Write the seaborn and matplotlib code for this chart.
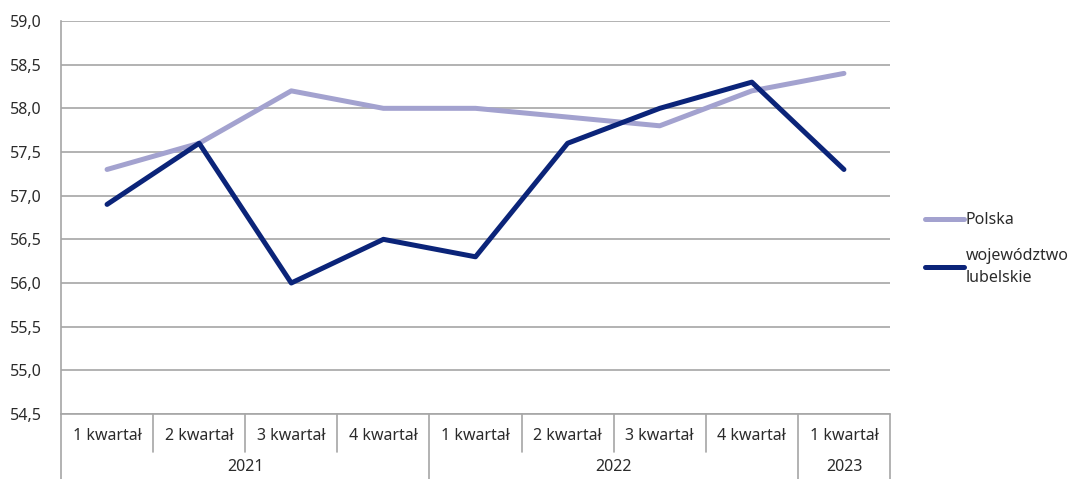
import pandas as pd
import matplotlib.pyplot as plt
import matplotlib.transforms as mtransforms
import seaborn as sns

# data
quarters = ["1 kwartał", "2 kwartał", "3 kwartał", "4 kwartał",
            "1 kwartał", "2 kwartał", "3 kwartał", "4 kwartał",
            "1 kwartał"]
years = ["2021", "2022", "2023"]
quarters_per_year = [4, 4, 1]
polska = [57.3, 57.6, 58.2, 58.0, 58.0, 57.9, 57.8, 58.2, 58.4]
lubelskie = [56.9, 57.6, 56.0, 56.5, 56.3, 57.6, 58.0, 58.3, 57.3]

data = pd.DataFrame({
    "pos": list(range(len(quarters))) * 2,
    "value": polska + lubelskie,
    "series": ["Polska"] * len(polska) + ["województwo\nlubelskie"] * len(lubelskie),
})

sns.set_theme(style="white")
plt.rcParams["font.family"] = ["Noto Sans", "DejaVu Sans"]

fig = plt.figure(figsize=(10.73, 4.79), dpi=100)
ax = fig.add_axes([61 / 1073, 65 / 479, (890 - 61) / 1073, (414 - 21) / 479])

grid_col = "#A6A6A6"
txt_col = "#2B2B2B"
fs = 11.5
sns.lineplot(data=data, x="pos", y="value", hue="series",
             palette=["#A3A2CF", "#0B2479"], linewidth=3.6,
             ax=ax, legend=True)

ax.set_xlim(-0.5, len(quarters) - 0.5)
ax.set_ylim(54.5, 59.0)
yt = [54.5 + 0.5 * i for i in range(10)]
ax.set_yticks(yt)
ax.set_yticklabels([f"{v:.1f}".replace(".", ",") for v in yt], fontsize=fs, color=txt_col)
ax.yaxis.grid(True, color=grid_col, linewidth=1.2)
ax.set_axisbelow(True)
ax.tick_params(axis="y", length=0, pad=14)
ax.set_xticks([])
ax.set_xlabel("")
ax.set_ylabel("")
for s in ["top", "right", "bottom"]:
    ax.spines[s].set_visible(False)
ax.spines["left"].set_color(grid_col)
ax.spines["left"].set_linewidth(1.2)

# two-level category axis below the plot
trans = mtransforms.blended_transform_factory(ax.transData, ax.transAxes)
short_drop = -38 / 393
long_drop = -66 / 393
ax.plot([-0.5, len(quarters) - 0.5], [0, 0], transform=trans, color=grid_col,
        linewidth=1.2, clip_on=False)
bounds = [-0.5]
for n in quarters_per_year:
    bounds.append(bounds[-1] + n)
for k in range(len(quarters) + 1):
    x = k - 0.5
    y0 = long_drop if x in bounds else short_drop
    ax.plot([x, x], [0, y0], transform=trans, color=grid_col,
            linewidth=1.2, clip_on=False)
for i, q in enumerate(quarters):
    ax.text(i, -22 / 393, q, transform=trans, ha="center", va="center",
            fontsize=fs, color=txt_col)
for j, yr in enumerate(years):
    mid = (bounds[j] + bounds[j + 1]) / 2
    ax.text(mid, -53 / 393, yr, transform=trans, ha="center", va="center",
            fontsize=fs, color=txt_col)

leg = ax.legend(loc="center left", bbox_to_anchor=(1.035, 0.42), frameon=False,
                fontsize=fs, handlelength=2.4, handletextpad=0.1,
                labelspacing=1.2, borderaxespad=0)
for t in leg.get_texts():
    t.set_color(txt_col)
    t.set_linespacing(1.5)

fig.savefig("out.png", dpi=100)
